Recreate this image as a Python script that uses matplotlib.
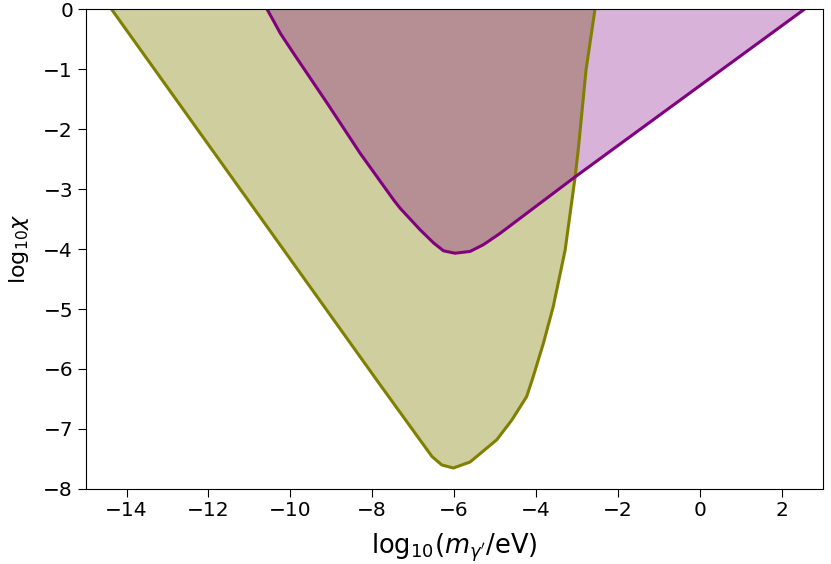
import matplotlib.pyplot as plt

# olive region boundary (log10 m, log10 chi)
olive_x = [-14.37, -7.8, -6.54, -6.3, -6.02, -5.61, -4.96, -4.59, -4.23, -4.07,
           -3.82, -3.58, -3.29, -3.05, -2.97, -2.78, -2.56]
olive_y = [0.0, -6.27, -7.46, -7.6, -7.65, -7.55, -7.18, -6.85, -6.46, -6.13,
           -5.57, -4.96, -4.02, -2.82, -2.35, -1.02, 0.0]

# purple region boundary
purple_x = [-10.57, -10.24, -9.92, -9.1, -8.29, -7.48, -7.32, -6.83, -6.5,
            -6.26, -5.98, -5.61, -5.29, -4.88, -3.09, 2.56]
purple_y = [0.0, -0.41, -0.74, -1.57, -2.41, -3.18, -3.32, -3.68, -3.9,
            -4.03, -4.07, -4.04, -3.93, -3.74, -2.82, 0.0]

fig, ax = plt.subplots(figsize=(8.31, 5.64), dpi=100)
fig.subplots_adjust(left=0.103, right=0.99, top=0.984, bottom=0.133)

ax.fill(olive_x, olive_y, color='olive', alpha=0.38, lw=0)
ax.plot(olive_x, olive_y, color='olive', lw=2.2)

ax.fill(purple_x, purple_y, color='purple', alpha=0.3, lw=0)
ax.plot(purple_x, purple_y, color='purple', lw=2.2)

ax.set_xlim(-15, 3)
ax.set_ylim(-8, 0)
ax.set_xticks([-14, -12, -10, -8, -6, -4, -2, 0, 2])
ax.tick_params(labelsize=14.5, length=5.5)
ax.set_xlabel(r'$\mathrm{log}_{10}(m_{\gamma^\prime}/\mathrm{eV})$', fontsize=18.5, labelpad=8)
ax.set_ylabel(r'$\mathrm{log}_{10}\chi$', fontsize=16, labelpad=9)

plt.savefig('out.png', dpi=100)
